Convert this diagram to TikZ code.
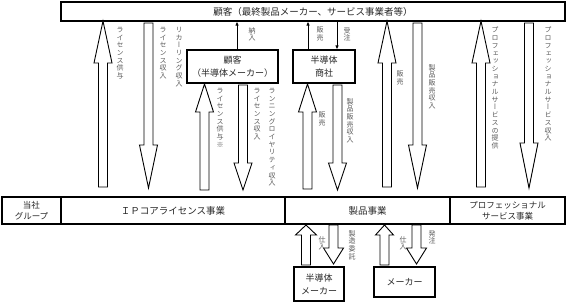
\documentclass[tikz,border=0pt]{standalone}
\usepackage{fontspec}
\usetikzlibrary{arrows.meta}
\newfontfamily\jp{Noto Sans CJK JP}
\newfontfamily\jpv[RawFeature=+vert]{Noto Sans CJK JP}
\ExplSyntaxOn
\NewDocumentCommand\vstack{m}{
  \vbox{\baselineskip=7.7pt\lineskiplimit=-20pt
    \tl_map_inline:nn{#1}{\hbox_to_wd:nn{8pt}{\hfil ##1\hfil}}}}
\ExplSyntaxOff
\newcommand\harr[5][9]{% [head half width] x, tail y, head base y, tip y
  \draw[harrow] (#2-4.5,#3) -- (#2-4.5,#4) -- (#2-#1,#4) -- (#2,#5) -- (#2+#1,#4) -- (#2+4.5,#4) -- (#2+4.5,#3) -- cycle;}
\begin{document}
\begin{tikzpicture}[x=1pt,y=-1pt,
  box/.style={draw=black,line width=1.1pt,inner sep=0pt,align=center,font=\jp\fontsize{9.5}{12}\selectfont,text=black!85},
  vlab/.style={inner sep=0pt,anchor=north,font=\jpv\fontsize{7}{7.7}\selectfont,text=black!65},
  harrow/.style={draw=black,line width=0.9pt,fill=white,line join=miter},
  sarrow/.style={draw=black,line width=0.9pt,-{Latex[length=4pt,width=3.5pt]}}]
\useasboundingbox (0,0) rectangle (568,303);
% top box
\node[box,minimum width=504pt,minimum height=19pt] (top) at (313,11.5) {顧客（最終製品メーカー、サービス事業者等）};
% bottom row
\node[box,minimum width=59pt,minimum height=27pt,font=\jp\fontsize{8.5}{11}\selectfont] (grp) at (31.5,210.5) {当社\\グループ};
\node[box,minimum width=224pt,minimum height=27pt] (ip) at (173,210.5) {ＩＰコアライセンス事業};
\node[box,minimum width=165pt,minimum height=27pt] (prod) at (367.5,210.5) {製品事業};
\node[box,minimum width=115pt,minimum height=27pt,font=\jp\fontsize{8.5}{11}\selectfont] (pro) at (507.5,210.5) {プロフェッショナル\\サービス事業};
% middle boxes
\node[box,minimum width=91pt,minimum height=33pt,font=\jp\fontsize{9}{13}\selectfont] (cust) at (232.5,66.5) {顧客\\（半導体メーカー）};
\node[box,minimum width=62pt,minimum height=33pt,font=\jp\fontsize{9}{13}\selectfont] (dist) at (324,66.5) {半導体\\商社};
\node[box,minimum width=50pt,minimum height=34pt,font=\jp\fontsize{9}{13}\selectfont] (smk) at (319,284) {半導体\\メーカー};
\node[box,minimum width=61pt,minimum height=30pt,font=\jp\fontsize{9}{13}\selectfont] (mk) at (404.5,282) {メーカー};
% small arrows
\coordinate (xa) at (237,0);
\coordinate (xb) at (308,0);
\coordinate (xc) at (337,0);
\draw[sarrow] (cust.north -| xa) -- (top.south -| xa);
\draw[sarrow] (dist.north -| xb) -- (top.south -| xb);
\draw[sarrow] (top.south -| xc) -- (dist.north -| xc);
% hollow arrows, upper area
\harr{103}{187}{63}{21}
\harr{148.5}{23}{145}{188}
\harr{204.5}{190}{112}{84}
\harr{243}{85}{163}{190}
\harr{307.5}{189}{112}{84}
\harr{337.5}{85}{163}{190}
\harr{387}{187}{63}{21}
\harr{417.5}{23}{145}{188}
\harr{481}{187}{63}{21}
\harr{529}{23}{143}{188}
% hollow arrows, lower area
\harr[10.5]{306}{265}{235}{225}
\harr[10]{333.5}{225}{248}{264}
\harr[9]{384.5}{265}{235}{225}
\harr[10]{416.5}{225}{248}{264}
% vertical labels
\node[vlab] (l1) at (120,27) {\vstack{ライセンス供与}};
\node[vlab] (l2) at (163,27) {\vstack{ライセンス収入}};
\node[vlab] (l3) at (179,27) {\vstack{リカーリング収入}};
\node[vlab] (l4) at (252,27) {\vstack{納入}};
\node[vlab] (l5) at (320,27) {\vstack{販売}};
\node[vlab] (l6) at (347,27) {\vstack{受注}};
\node[vlab] (l7) at (220,88) {\vstack{ライセンス供与※}};
\node[vlab] (l8) at (257,88) {\vstack{ライセンス収入}};
\node[vlab] (l9) at (272,88) {\vstack{ランニングロイヤリティ収入}};
\node[vlab] (l10) at (322,112) {\vstack{販売}};
\node[vlab] (l11) at (350,98) {\vstack{製品販売収入}};
\node[vlab] (l12) at (400,71) {\vstack{販売}};
\node[vlab] (l13) at (432,64) {\vstack{製品販売収入}};
\node[vlab] (l14) at (495,27) {\vstack{プロフェッショナルサービスの提供}};
\node[vlab] (l15) at (548,27) {\vstack{プロフェッショナルサービス収入}};
\node[vlab] (l16) at (322,236) {\vstack{仕入}};
\node[vlab] (l17) at (352,230) {\vstack{製造委託}};
\node[vlab] (l18) at (403,236) {\vstack{仕入}};
\node[vlab] (l19) at (432,230) {\vstack{発注}};
\end{tikzpicture}
\end{document}
